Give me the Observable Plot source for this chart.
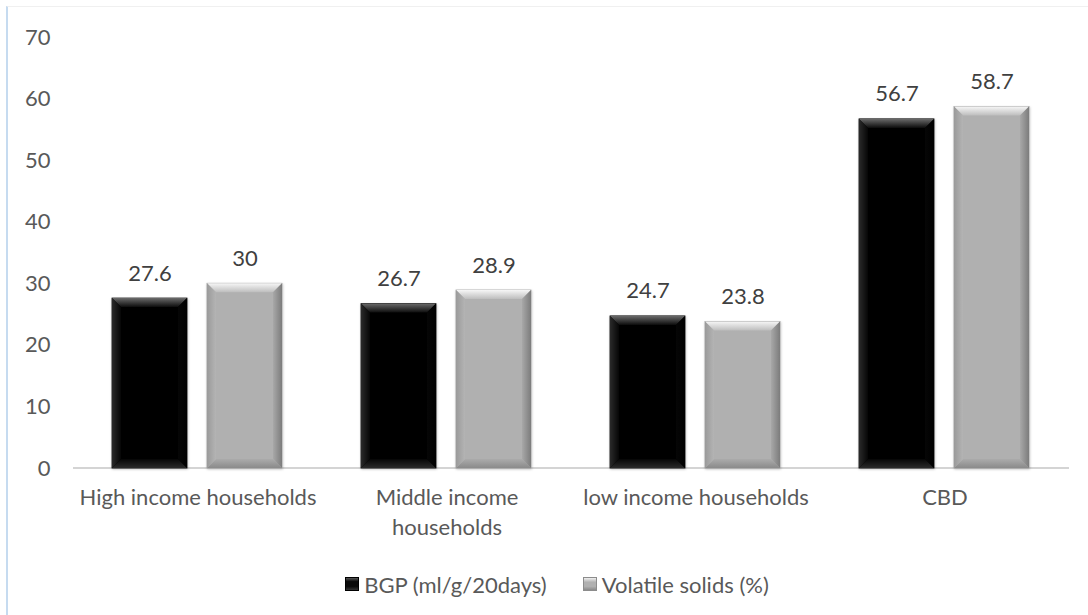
<!DOCTYPE html>
<html>
<head>
<meta charset="utf-8">
<script src="https://cdn.jsdelivr.net/npm/d3@7"></script>
<script src="https://cdn.jsdelivr.net/npm/@observablehq/plot@0.6"></script>
<style>
  html, body { margin: 0; padding: 0; background: #ffffff; }
  #page { position: relative; width: 1088px; height: 615px; overflow: hidden; font-family: Lato, "Open Sans", sans-serif; }
  #frame { position: absolute; left: 6px; top: 6px; right: -4px; bottom: -4px;
           border-left: 2px solid #c6dbf0; border-top: 1px solid #f0f0f0; }
  #chart { position: absolute; left: 0; top: 0; }
  #legend { position: absolute; left: 0; top: 571px; width: 1088px; height: 26px; padding-left: 26px; box-sizing: border-box;
            display: flex; justify-content: center; align-items: center; gap: 36px;
            font-size: 22px; color: #595959; }
  .item { display: flex; align-items: center; gap: 5px; white-space: nowrap; }
  .sw { width: 14px; height: 14px; box-sizing: border-box; }
</style>
</head>
<body>
<div id="page">
  <div id="frame"></div>
  <div id="chart"></div>
  <div id="legend"></div>
</div>
<script>
// Categories along the x axis, and their wrapped display labels
const categories = ["High income households", "Middle income households", "low income households", "CBD"];
const categoryLabels = ["High income households", "Middle income\nhouseholds", "low income households", "CBD"];

// Series
const seriesNames = ["BGP (ml/g/20days)", "Volatile solids (%)"];
const bgp = [27.6, 26.7, 24.7, 56.7];
const volatileSolids = [30, 28.9, 23.8, 58.7];
const seriesColors = ["#060606", "#b0b0b0"];

// Y axis ticks
const yTicks = [0, 10, 20, 30, 40, 50, 60, 70];

const seriesValues = [bgp, volatileSolids];
const rows = [];
categories.forEach((c, i) => {
  seriesNames.forEach((s, j) => rows.push({category: c, series: s, value: seriesValues[j][i]}));
});

const chart = Plot.plot({
  width: 1088,
  height: 550,
  marginLeft: 71,
  marginRight: 18,
  marginTop: 37,
  marginBottom: 82,
  style: {fontFamily: "Lato, 'Open Sans', sans-serif", fontSize: "22px", color: "#595959", background: "transparent"},
  y: {domain: [0, 70], ticks: yTicks, tickSize: 0, tickPadding: 23, label: null},
  x: {domain: seriesNames, paddingInner: 0.2083, paddingOuter: 0.406, axis: null},
  fx: {domain: categories, paddingInner: 0, paddingOuter: 0, axis: null},
  color: {domain: seriesNames, range: seriesColors},
  marks: [
    // baseline at zero: a thin strip spanning each category band
    Plot.rectY(categories, {fx: d => d, y1: 0, y2: 0, insetTop: -1, insetBottom: -1, fill: "#d4d4d4"}),
    Plot.barY(rows, {fx: "category", x: "series", y: "value", fill: "series"}),
    Plot.text(rows, {fx: "category", x: "series", y: "value", text: d => String(d.value),
                     dy: -25, fill: "#404040", fontSize: 22}),
    // category labels under each band (wrapped where needed)
    Plot.text(categories, {fx: d => d, frameAnchor: "bottom", lineAnchor: "top", dy: 15, lineHeight: 1.36,
                           text: d => categoryLabels[categories.indexOf(d)], fill: "#595959", fontSize: 22})
  ]
});
document.getElementById("chart").appendChild(chart);

// Beveled look for the bars: mitred edge strips drawn over each rect
const ns = "http://www.w3.org/2000/svg";
const defs = document.createElementNS(ns, "defs");
defs.innerHTML = `
  <linearGradient id="bk-top" x1="0" y1="0" x2="0" y2="1"><stop offset="0" stop-color="#6a6a6a"/><stop offset="1" stop-color="#0c0c0c"/></linearGradient>
  <linearGradient id="bk-left" x1="0" y1="0" x2="1" y2="0"><stop offset="0" stop-color="#2a2a2a"/><stop offset="1" stop-color="#060606"/></linearGradient>
  <linearGradient id="bk-right" x1="1" y1="0" x2="0" y2="0"><stop offset="0" stop-color="#000"/><stop offset="1" stop-color="#060606"/></linearGradient>
  <linearGradient id="bk-bottom" x1="0" y1="1" x2="0" y2="0"><stop offset="0" stop-color="#2a2a2a"/><stop offset="1" stop-color="#060606"/></linearGradient>
  <linearGradient id="gr-top" x1="0" y1="0" x2="0" y2="1"><stop offset="0" stop-color="#f6f6f6"/><stop offset="1" stop-color="#bdbdbd"/></linearGradient>
  <linearGradient id="gr-left" x1="0" y1="0" x2="1" y2="0"><stop offset="0" stop-color="#9a9a9a"/><stop offset="1" stop-color="#b4b4b4"/></linearGradient>
  <linearGradient id="gr-right" x1="1" y1="0" x2="0" y2="0"><stop offset="0" stop-color="#7c7c7c"/><stop offset="1" stop-color="#a8a8a8"/></linearGradient>
  <linearGradient id="gr-bottom" x1="0" y1="1" x2="0" y2="0"><stop offset="0" stop-color="#8a8a8a"/><stop offset="1" stop-color="#ababab"/></linearGradient>
  <filter id="barshadow" x="-10%" y="-10%" width="120%" height="120%">
    <feDropShadow dx="0.5" dy="1" stdDeviation="1.2" flood-color="#000" flood-opacity="0.25"/>
  </filter>`;
chart.insertBefore(defs, chart.firstChild);

chart.querySelectorAll('g[aria-label="bar"] rect').forEach(r => {
  const x = +r.getAttribute("x"), y = +r.getAttribute("y");
  const w = +r.getAttribute("width"), h = +r.getAttribute("height");
  const dark = d3.color(r.getAttribute("fill")).formatHex() === d3.color(seriesColors[0]).formatHex();
  const p = dark ? "bk" : "gr";
  const b = Math.min(9, w / 2, h / 2);
  r.setAttribute("filter", "url(#barshadow)");
  r.setAttribute("stroke", dark ? "#000" : "#9a9a9a");
  r.setAttribute("stroke-width", "0.8");
  const g = document.createElementNS(ns, "g");
  const strips = {
    top: [[x, y], [x + w, y], [x + w - b, y + b], [x + b, y + b]],
    bottom: [[x, y + h], [x + w, y + h], [x + w - b, y + h - b], [x + b, y + h - b]],
    left: [[x, y], [x + b, y + b], [x + b, y + h - b], [x, y + h]],
    right: [[x + w, y], [x + w - b, y + b], [x + w - b, y + h - b], [x + w, y + h]]
  };
  for (const [side, pts] of Object.entries(strips)) {
    const poly = document.createElementNS(ns, "polygon");
    poly.setAttribute("points", pts.map(q => q.join(",")).join(" "));
    poly.setAttribute("fill", `url(#${p}-${side})`);
    g.appendChild(poly);
  }
  r.after(g);
});

// Legend
const legend = document.getElementById("legend");
seriesNames.forEach((s, j) => {
  const item = document.createElement("div");
  item.className = "item";
  const sw = document.createElement("div");
  sw.className = "sw";
  sw.style.background = j === 0
    ? "linear-gradient(to bottom, #555 0%, #0a0a0a 30%, #0a0a0a 70%, #333 100%)"
    : "linear-gradient(to bottom, #f0f0f0 0%, #b0b0b0 35%, #b0b0b0 70%, #8a8a8a 100%)";
  sw.style.border = j === 0 ? "1px solid #000" : "1px solid #8c8c8c";
  const label = document.createElement("span");
  label.textContent = s;
  item.appendChild(sw);
  item.appendChild(label);
  legend.appendChild(item);
});
</script>
</body>
</html>
